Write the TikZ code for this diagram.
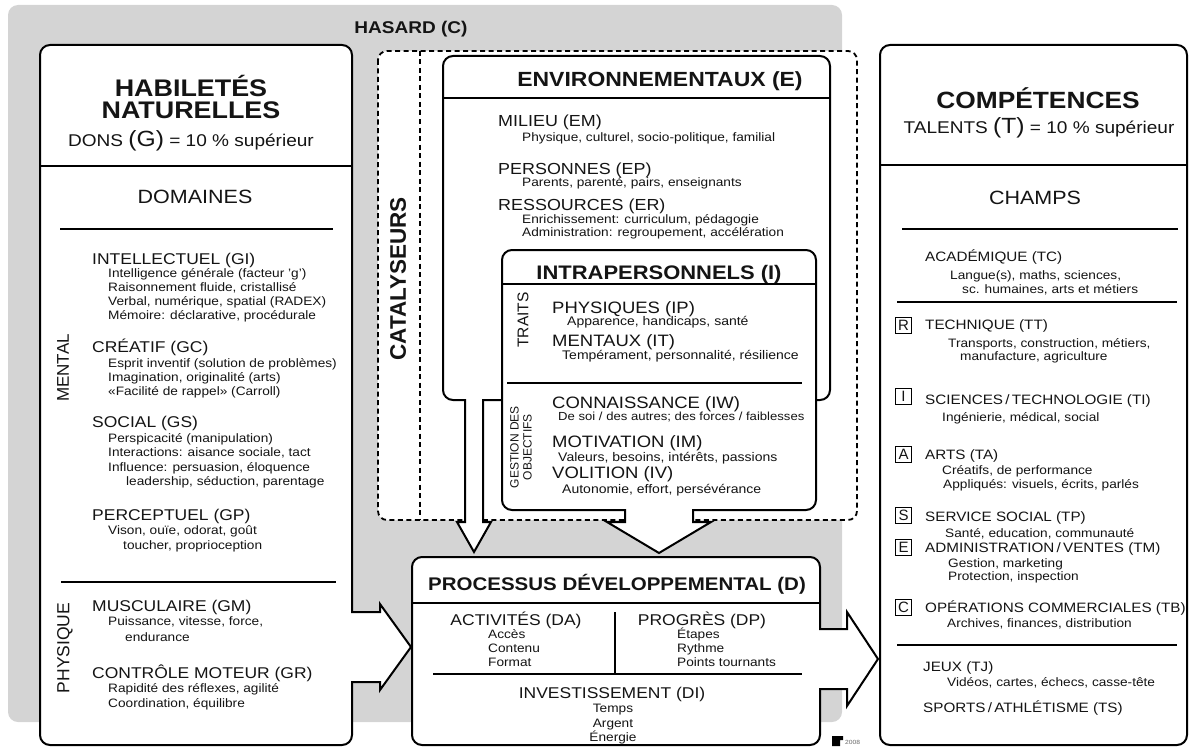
\documentclass[tikz,border=0pt]{standalone}
\usepackage{fontspec}
\setmainfont[FakeStretch=1.12]{Liberation Sans}
\newfontfamily\plainfont{Liberation Sans}
\usepackage{graphicx}
\newcommand\myfs[1]{\fontsize{#1}{#1}\selectfont}
\definecolor{hasard}{RGB}{212,212,212}
\definecolor{txt}{RGB}{20,20,20}
\begin{document}
\begin{tikzpicture}[x=1pt,y=-1pt,
  box/.style={draw=black, line width=2pt, fill=white},
  sepl/.style={draw=black, line width=1.4pt},
  dsh/.style={draw=black, line width=1.8pt, dash pattern=on 5pt off 3.5pt},
  stroke/.style={draw=black, line width=2pt, line cap=rect, line join=miter},
  ttl/.style={inner sep=0, anchor=base, font=\bfseries\myfs{#1}, text=txt, yshift={-0.358*#1pt}},
  ctr/.style={inner sep=0, anchor=base, font=\myfs{#1}, text=txt, yshift={-0.358*#1pt}},
  hd/.style={inner sep=0, anchor=base west, font=\myfs{#1}, text=txt, yshift={-0.358*#1pt}},
  hd/.default=15.6,
  sb/.style={inner sep=0, anchor=base west, font=\myfs{#1}, text=txt, yshift={-0.33*#1pt}},
  sb/.default=12.2,
  sbc/.style={sb=#1, anchor=base},
  sbc/.default=12.2,
  rot/.style={inner sep=0, rotate=90, font=\plainfont\myfs{#1}, text=txt},
  lbox/.style={draw=black, line width=1pt, minimum width=16pt, minimum height=16pt, inner sep=0, font=\plainfont\myfs{15}, text=txt}
]
\useasboundingbox (0,0) rectangle (1190,749);
% background HASARD
\fill[hasard, rounded corners=10] (8,5) rectangle (842,722);
\node[ttl=17] (hasard) at (411,27) {HASARD (C)};
% catalyseurs
\draw[dsh, fill=white, rounded corners=9] (378,51) rectangle (857,520);
\coordinate (dtop) at (420,51);
\coordinate (dbot) at (420,520);
\draw[dsh] (dtop) -- (dbot);
\node[rot=22, font=\plainfont\bfseries\myfs{22.5}] (cata) at (398,279) {CATALYSEURS};
% environnementaux
\draw[box, rounded corners=10] (443,56) rectangle (830,400);
\draw[sepl] (443,98) -- (830,98);
\node[ttl=20.5] (env) at (660,79) {ENVIRONNEMENTAUX (E)};
% intrapersonnels
\draw[box, rounded corners=10] (502,250) rectangle (816,510);
\draw[sepl] (502,284) -- (816,284);
\draw[sepl] (507,383) -- (802,383);
\node[ttl=19.6] (intra) at (659,272) {INTRAPERSONNELS (I)};
% env arrow
\fill[white] (465,396) -- (465,522) -- (457,522) -- (474,552) -- (491,522) -- (483,522) -- (483,396) -- cycle;
\draw[stroke] (465,400) -- (465,522) -- (457,522) -- (474,552) -- (491,522) -- (483,522) -- (483,400);
% intra arrow
\fill[white] (625,506) -- (625,522) -- (607,522) -- (659,553) -- (711,522) -- (693,522) -- (693,506) -- cycle;
\draw[stroke] (625,510) -- (625,522) -- (607,522) -- (659,553) -- (711,522) -- (693,522) -- (693,510);
% left panel
\draw[box, rounded corners=10] (40,45) rectangle (352,745);
\fill[white] (349,612) -- (380,612) -- (380,604) -- (411,647) -- (380,690) -- (380,682) -- (349,682) -- cycle;
\draw[stroke] (352,612) -- (380,612) -- (380,604) -- (411,647) -- (380,690) -- (380,682) -- (352,682);
\draw[sepl] (40,166) -- (352,166);
\draw[sepl] (60,229) -- (333,229);
\draw[sepl] (61,582) -- (336,582);
% processus
\draw[box, rounded corners=10] (412,557) rectangle (820,745);
\fill[white] (817,629) -- (847,629) -- (847,612) -- (878,659) -- (847,706) -- (847,689) -- (817,689) -- cycle;
\draw[stroke] (820,629) -- (847,629) -- (847,612) -- (878,659) -- (847,706) -- (847,689) -- (820,689);
\draw[sepl] (412,603) -- (820,603);
\draw[sepl] (615,612) -- (615,673);
\draw[sepl] (433,674) -- (802,674);
% right panel
\draw[box, rounded corners=10] (880,45) rectangle (1187,745);
\draw[sepl] (880,165) -- (1187,165);
\draw[sepl] (902,229) -- (1178,229);
\draw[sepl] (897,302) -- (1177,302);
\draw[sepl] (897,645) -- (1177,645);

% ---- left panel texts
\node[ttl=24] (hab1) at (191,88) {HABILETÉS};
\node[ttl=24] (hab2) at (191,110) {NATURELLES};
\node[ctr=17] (dons) at (191,140) {DONS {\myfs{22}(G)} = 10 \% supérieur};
\node[ctr=19.2] (dom) at (195,197) {DOMAINES};
\node[rot=17] (mental) at (63,368) {MENTAL};
\node[rot=17.5] (physique) at (65,648) {PHYSIQUE};
\node[hd] (gi) at (92,259) {INTELLECTUEL (GI)};
\node[sb] (gi1) at (108,273) {Intelligence générale (facteur 'g')};
\node[sb] (gi2) at (108,287) {Raisonnement fluide, cristallisé};
\node[sb] (gi3) at (108,301) {Verbal, numérique, spatial (RADEX)};
\node[sb] (gi4) at (108,315) {Mémoire: déclarative, procédurale};
\node[hd] (gc) at (92,347) {CRÉATIF (GC)};
\node[sb] (gc1) at (108,363) {Esprit inventif (solution de problèmes)};
\node[sb] (gc2) at (108,377) {Imagination, originalité (arts)};
\node[sb] (gc3) at (108,391) {«Facilité de rappel» (Carroll)};
\node[hd] (gs) at (92,422) {SOCIAL (GS)};
\node[sb] (gs1) at (108,438) {Perspicacité (manipulation)};
\node[sb] (gs2) at (108,452) {Interactions: aisance sociale, tact};
\node[sb] (gs3) at (108,467) {Influence: persuasion, éloquence};
\node[sb] (gs4) at (126,481) {leadership, séduction, parentage};
\node[hd] (gp) at (92,515) {PERCEPTUEL (GP)};
\node[sb] (gp1) at (108,530) {Vison, ouïe, odorat, goût};
\node[sb] (gp2) at (123,545) {toucher, proprioception};
\node[hd] (gm) at (92,606) {MUSCULAIRE (GM)};
\node[sb] (gm1) at (108,621) {Puissance, vitesse, force,};
\node[sb] (gm2) at (125,637) {endurance};
\node[hd] (gr) at (92,673) {CONTRÔLE MOTEUR (GR)};
\node[sb] (gr1) at (108,688) {Rapidité des réflexes, agilité};
\node[sb] (gr2) at (108,703) {Coordination, équilibre};

% ---- env texts
\node[hd=16] (em) at (498,121) {MILIEU (EM)};
\node[sb] (em1) at (522,137) {Physique, culturel, socio-politique, familial};
\node[hd=16] (ep) at (498,169) {PERSONNES (EP)};
\node[sb] (ep1) at (522,182) {Parents, parenté, pairs, enseignants};
\node[hd=16] (er) at (498,205) {RESSOURCES (ER)};
\node[sb] (er1) at (522,219) {Enrichissement: curriculum, pédagogie};
\node[sb] (er2) at (522,232) {Administration: regroupement, accélération};

% ---- intra texts
\node[rot=15.5] (traits) at (523,320) {TRAITS};
\node[rot=12, align=center, font=\plainfont\fontsize{12}{13}\selectfont] (gestion) at (521,447) {GESTION DES\\OBJECTIFS};
\node[hd=16.5] (ip) at (552,308) {PHYSIQUES (IP)};
\node[sb=12.5] (ip1) at (567,321) {Apparence, handicaps, santé};
\node[hd=16.5] (it) at (552,341) {MENTAUX (IT)};
\node[sb=12.5] (it1) at (562,355) {Tempérament, personnalité, résilience};
\node[hd=16.5] (iw) at (552,403) {CONNAISSANCE (IW)};
\node[sb=11.7] (iw1) at (558,417) {De soi / des autres; des forces / faiblesses};
\node[hd=16.5] (im) at (552,442) {MOTIVATION (IM)};
\node[sb=12.5] (im1) at (558,457) {Valeurs, besoins, intérêts, passions};
\node[hd=16.5] (iv) at (552,473) {VOLITION (IV)};
\node[sb=12.5] (iv1) at (562,489) {Autonomie, effort, persévérance};

% ---- processus texts
\node[ttl=18.3] (proc) at (617,584) {PROCESSUS DÉVELOPPEMENTAL (D)};
\node[ctr=15.6] (da) at (516,620) {ACTIVITÉS (DA)};
\node[sb] (da1) at (488,634) {Accès};
\node[sb] (da2) at (488,648) {Contenu};
\node[sb] (da3) at (488,662) {Format};
\node[ctr=15.6] (dp) at (702,620) {PROGRÈS (DP)};
\node[sb] (dp1) at (677,634) {Étapes};
\node[sb] (dp2) at (677,648) {Rythme};
\node[sb] (dp3) at (677,662) {Points tournants};
\node[ctr=15.6] (di) at (612,693) {INVESTISSEMENT (DI)};
\node[sbc] (di1) at (613,708) {Temps};
\node[sbc] (di2) at (613,723) {Argent};
\node[sbc] (di3) at (613,737) {Énergie};

% ---- right panel texts
\node[ttl=23.5] (comp) at (1038,100) {COMPÉTENCES};
\node[ctr=17] (tal) at (1039,127) {TALENTS {\myfs{22}(T)} = 10 \% supérieur};
\node[ctr=19.2] (champs) at (1035,198) {CHAMPS};
\node[hd=13.6] (tc) at (925,257) {ACADÉMIQUE (TC)};
\node[sb] (tc1) at (950,275) {Langue(s), maths, sciences,};
\node[sb] (tc2) at (962,289) {sc. humaines, arts et métiers};
\node[lbox] (bR) at (903.5,325) {R};
\node[hd=13.6] (tt) at (925,325) {TECHNIQUE (TT)};
\node[sb] (tt1) at (948,343) {Transports, construction, métiers,};
\node[sb] (tt2) at (960,356) {manufacture, agriculture};
\node[lbox] (bI) at (903.5,396) {I};
\node[hd=13.6] (ti) at (925,400) {SCIENCES\,/\,TECHNOLOGIE (TI)};
\node[sb] (ti1) at (942,417) {Ingénierie, médical, social};
\node[lbox] (bA) at (903.5,454) {A};
\node[hd=13.6] (ta) at (925,455) {ARTS (TA)};
\node[sb] (ta1) at (942,470) {Créatifs, de performance};
\node[sb] (ta2) at (943,484) {Appliqués: visuels, écrits, parlés};
\node[lbox] (bS) at (903.5,515) {S};
\node[hd=13.6] (tp) at (925,517) {SERVICE SOCIAL (TP)};
\node[sb] (tp1) at (945,533) {Santé, education, communauté};
\node[lbox] (bE) at (903.5,547) {E};
\node[hd=13.6] (tm) at (925,548) {ADMINISTRATION\,/\,VENTES (TM)};
\node[sb] (tm1) at (948,563) {Gestion, marketing};
\node[sb] (tm2) at (948,576) {Protection, inspection};
\node[lbox] (bC) at (903.5,607) {C};
\node[hd=13.6] (tb) at (925,608) {OPÉRATIONS COMMERCIALES (TB)};
\node[sb] (tb1) at (947,623) {Archives, finances, distribution};
\node[hd=13.6] (tj) at (923,667) {JEUX (TJ)};
\node[sb] (tj1) at (947,682) {Vidéos, cartes, échecs, casse-tête};
\node[hd=13.6] (ts) at (923,708) {SPORTS\,/\,ATHLÉTISME (TS)};

% ---- logo
\fill[black] (832,736) -- (843,736) -- (843,740) -- (840,740) -- (840,746) -- (832,746) -- cycle;
\node[inner sep=0, anchor=west, font=\myfs{6}, text=black!60] (yr) at (845,742) {2008};
\end{tikzpicture}
\end{document}
